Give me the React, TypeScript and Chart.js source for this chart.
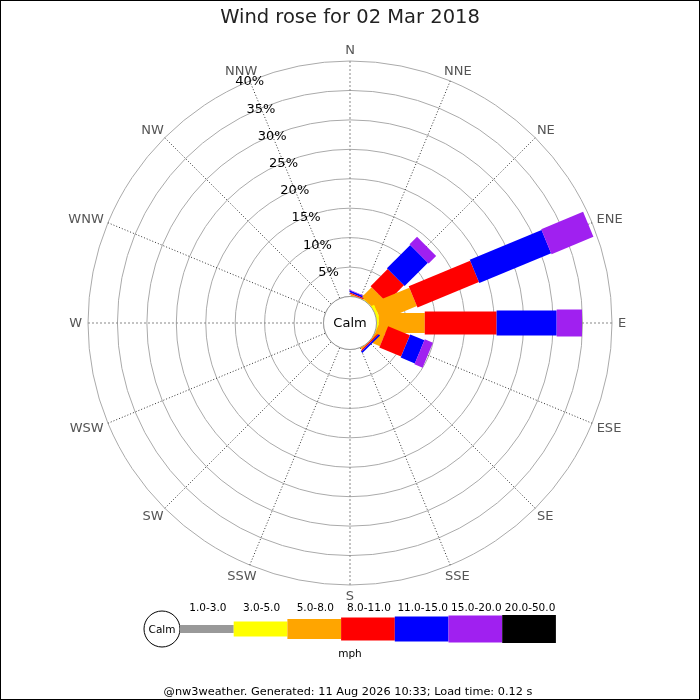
import React, { useRef, useEffect } from 'react';
import { Chart, registerables } from 'chart.js';

Chart.register(...registerables);

const FONT = '"DejaVu Sans", "Liberation Sans", sans-serif';

const directions = ['N', 'NNE', 'NE', 'ENE', 'E', 'ESE', 'SE', 'SSE', 'S', 'SSW', 'SW', 'WSW', 'W', 'WNW', 'NW', 'NNW'];
const speedBins = ['1.0-3.0', '3.0-5.0', '5.0-8.0', '8.0-11.0', '11.0-15.0', '15.0-20.0', '20.0-50.0'];

// % of the day per direction (N .. NNW), one array per speed bin (mph)
const mph1to3 = [0, 0, 0, 0, 0, 0, 0, 0, 0, 0, 0, 0, 0, 0, 0, 0];
const mph3to5 = [0, 0, 0.1, 0.5, 0.4, 0.1, 0, 0, 0, 0, 0, 0, 0, 0, 0, 0];
const mph5to8 = [0, 0.1, 2.3, 6.6, 7.8, 1.6, 0.1, 0, 0, 0, 0, 0, 0, 0, 0, 0];
const mph8to11 = [0, 0.2, 4.1, 11.3, 12.2, 4.0, 0.2, 0, 0, 0, 0, 0, 0, 0, 0, 0];
const mph11to15 = [0, 0.3, 5.6, 13.2, 10.2, 2.6, 0.3, 0, 0, 0, 0, 0, 0, 0, 0, 0];
const mph15to20 = [0, 0.1, 1.8, 7.7, 4.3, 1.5, 0, 0, 0, 0, 0, 0, 0, 0, 0, 0];
const mph20to50 = [0, 0, 0, 0, 0, 0, 0, 0, 0, 0, 0, 0, 0, 0, 0, 0];

const series = [mph1to3, mph3to5, mph5to8, mph8to11, mph11to15, mph15to20, mph20to50];
const radialTicks = [0, 5, 10, 15, 20, 25, 30, 35, 40];

// styles
const binColors = ['#999999', '#ffff00', '#ffa500', '#ff0000', '#0000ff', '#a020f0', '#000000'];
const binWidths = [8, 15, 20, 23, 25, 27, 28];

const roseBars = {
  id: 'roseBars',
  afterDatasetsDraw(chart: any) {
    const ctx = chart.ctx as CanvasRenderingContext2D;
    const scale = chart.scales.r;
    ctx.save();

    // stacked bars, one rectangle per speed bin
    directions.forEach((_, i) => {
      let cum = 0;
      chart.data.datasets.forEach((ds: any, k: number) => {
        const v = ds.data[i] as number;
        if (!v) return;
        const d0 = cum === 0 ? 0 : scale.getDistanceFromCenterForValue(cum);
        cum += v;
        const d1 = scale.getDistanceFromCenterForValue(cum);
        const a = scale.getPointPosition(i, d0);
        const b = scale.getPointPosition(i, d1);
        const hw = binWidths[k] / 2;
        const nx = -Math.sin(b.angle) * hw;
        const ny = Math.cos(b.angle) * hw;
        ctx.fillStyle = binColors[k];
        ctx.beginPath();
        ctx.moveTo(a.x + nx, a.y + ny);
        ctx.lineTo(b.x + nx, b.y + ny);
        ctx.lineTo(b.x - nx, b.y - ny);
        ctx.lineTo(a.x - nx, a.y - ny);
        ctx.closePath();
        ctx.fill();
      });
    });

    // calm circle
    const rc = scale.getDistanceFromCenterForValue(0);
    ctx.beginPath();
    ctx.arc(scale.xCenter, scale.yCenter, rc, 0, Math.PI * 2);
    ctx.fillStyle = '#fff';
    ctx.fill();
    ctx.strokeStyle = '#999';
    ctx.lineWidth = 1;
    ctx.stroke();
    ctx.fillStyle = '#000';
    ctx.font = `13px ${FONT}`;
    ctx.textAlign = 'center';
    ctx.textBaseline = 'middle';
    ctx.fillText('Calm', scale.xCenter, scale.yCenter + 1);

    // percentage labels along the NNW spoke
    const labelIdx = directions.indexOf('NNW');
    radialTicks.slice(1).forEach((t) => {
      const p = scale.getPointPosition(labelIdx, scale.getDistanceFromCenterForValue(t));
      ctx.fillText(`${t}%`, p.x, p.y + 1);
    });

    // compass labels
    ctx.fillStyle = '#555';
    directions.forEach((d, i) => {
      const p = scale.getPointPosition(i, scale.drawingArea + 6);
      const w = ctx.measureText(d).width;
      ctx.fillText(d, p.x + Math.cos(p.angle) * w / 2, p.y + Math.sin(p.angle) * 5 + 1);
    });
    ctx.restore();
  },
  afterDraw(chart: any) {
    const ctx = chart.ctx as CanvasRenderingContext2D;
    ctx.save();
    ctx.textAlign = 'center';
    ctx.textBaseline = 'middle';

    // speed legend
    const cy = 629;
    ctx.beginPath();
    ctx.arc(162, cy, 18, 0, Math.PI * 2);
    ctx.fillStyle = '#fff';
    ctx.fill();
    ctx.strokeStyle = '#000';
    ctx.lineWidth = 1;
    ctx.stroke();
    ctx.fillStyle = '#000';
    ctx.font = `10.5px ${FONT}`;
    ctx.fillText('Calm', 162, cy + 1);

    const segW = 53.7;
    speedBins.forEach((label, k) => {
      const x = 180 + k * segW;
      const h = binWidths[k];
      ctx.fillStyle = binColors[k];
      ctx.fillRect(x, cy - h / 2, segW, h);
      ctx.fillStyle = '#000';
      ctx.fillText(label, x + segW / 2 + 1, 608);
    });
    ctx.fillText('mph', 350, 654);

    ctx.font = `11.3px ${FONT}`;
    ctx.fillText('@nw3weather. Generated: 11 Aug 2026 10:33; Load time: 0.12 s', 348, 692);

    ctx.strokeStyle = '#000';
    ctx.strokeRect(0.5, 0.5, 699, 699);
    ctx.restore();
  },
};

const App: React.FC = () => {
  const chartRef = useRef<HTMLCanvasElement | null>(null);
  const chartInstance = useRef<Chart | null>(null);

  useEffect(() => {
    document.body.style.margin = '0';
    if (!chartRef.current) return;
    if (chartInstance.current) chartInstance.current.destroy();

    chartInstance.current = new Chart(chartRef.current, {
      type: 'radar',
      data: {
        labels: directions,
        datasets: series.map((data, k) => ({
          label: speedBins[k],
          data,
          showLine: false,
          fill: false,
          borderWidth: 0,
          backgroundColor: 'rgba(0,0,0,0)',
          pointRadius: 0,
          pointHoverRadius: 0,
        })),
      },
      options: {
        responsive: false,
        animation: false,
        events: [],
        layout: { padding: { left: 88, right: 88, top: 0, bottom: 115 } },
        scales: {
          r: {
            min: -4.5,
            max: 40,
            bounds: 'data',
            afterBuildTicks: (scale: any) => {
              scale.ticks = radialTicks.map((value) => ({ value }));
            },
            ticks: { display: false },
            pointLabels: { display: false },
            grid: { circular: true, color: '#aaa', lineWidth: 1 },
            angleLines: {
              display: true,
              lineWidth: 1,
              color: (c: any) => (c.index % 4 === 0 ? '#888' : '#333'),
              borderDash: (c: any) => (c.index % 4 === 0 ? [2, 2] : [1, 2]),
            },
          } as any,
        },
        plugins: {
          legend: { display: false },
          tooltip: { enabled: false },
          title: {
            display: true,
            text: 'Wind rose for 02 Mar 2018',
            color: '#222',
            font: { family: FONT, size: 19.5, weight: 'normal' },
            padding: { top: 6, bottom: 31.6 },
          },
        },
      },
      plugins: [roseBars],
    });

    return () => {
      if (chartInstance.current) {
        chartInstance.current.destroy();
        chartInstance.current = null;
      }
    };
  }, []);

  return (
    <div style={{ width: 700, height: 700, background: '#fff' }}>
      <canvas ref={chartRef} width={700} height={700} style={{ display: 'block' }} />
    </div>
  );
};

export default App;
